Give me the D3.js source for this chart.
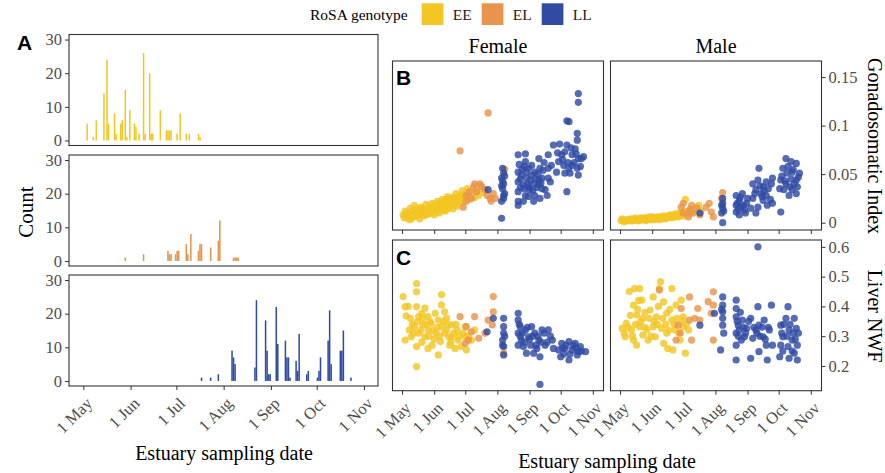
<!DOCTYPE html>
<html>
<head>
<meta charset="utf-8">
<script src="https://cdn.jsdelivr.net/npm/d3@7"></script>
<style>
  body { margin: 0; background: #fff; }
  text { font-family: "Liberation Serif", "Times New Roman", serif; }
  .tag { font-family: "Liberation Sans", Arial, sans-serif; font-weight: bold; }
</style>
</head>
<body>
<svg id="fig" width="885" height="473"></svg>
<script>
// ---- data ----
const genotypes = ['EE', 'EL', 'LL'];
const genoColors = ['#F3C623', '#E8944A', '#2F4BA4'];
const sexes = ['Female', 'Male'];
const monthLabels = ['1 May', '1 Jun', '1 Jul', '1 Aug', '1 Sep', '1 Oct', '1 Nov'];
const countTicks = [0, 10, 20, 30];
const gsiTicks = [0, 0.05, 0.1, 0.15];
const gsiLabels = ['0', '0.05', '0.1', '0.15'];
const nwfTicks = [0.2, 0.3, 0.4, 0.5, 0.6];

// histogram counts per sampling day (days after 1 May)
const histEEDays = [2, 6, 8, 13, 15, 16, 20, 21, 24, 25, 27, 28, 30, 33, 34, 36, 39, 40, 43, 44, 45, 50, 54, 55, 56, 57, 61, 63, 67, 69, 75, 76];
const histEECounts = [5, 1, 6, 14, 24, 5, 8, 2, 5, 6, 15, 1, 9, 5, 4, 2, 26, 2, 20, 2, 2, 9, 3, 3, 3, 3, 2, 8, 2, 2, 2, 1];
const histELDays = [27, 39, 55, 56, 57, 60, 61, 62, 67, 68, 70, 75, 76, 77, 83, 88, 89, 98, 99, 100, 101];
const histELCounts = [1, 2, 3, 2, 2, 2, 3, 3, 5, 2, 8, 3, 5, 5, 4, 6, 12, 1, 1, 1, 1];
const histLLDays = [77, 83, 88, 97, 98, 99, 112, 113, 119, 120, 121, 122, 126, 127, 132, 133, 134, 135, 139, 140, 141, 146, 147, 153, 154, 155, 160, 161, 162, 168, 169, 170, 175];
const histLLCounts = [1, 1, 2, 9, 7, 5, 4, 24, 18, 9, 2, 2, 22, 11, 12, 7, 7, 1, 6, 3, 14, 2, 3, 1, 3, 7, 12, 21, 5, 9, 9, 15, 1];

// gonadosomatic index [day after 1 May, GSI]
const femaleGsiEE = [[1,0.008],[2,0.005],[3,0.012],[4,0.009],[5,0.006],[6,0.010],[7,0.003],[8,0.015],[9,0.009],[9,0.004],[10,0.012],[11,0.006],[12,0.018],[13,0.010],[13,0.007],[14,0.014],[15,0.008],[16,0.012],[17,0.004],[17,0.009],[18,0.016],[19,0.010],[19,0.015],[20,0.013],[21,0.007],[21,0.012],[22,0.011],[23,0.019],[24,0.014],[24,0.008],[25,0.009],[26,0.012],[26,0.016],[27,0.017],[28,0.010],[28,0.013],[29,0.020],[30,0.014],[30,0.018],[31,0.008],[32,0.016],[32,0.011],[33,0.012],[34,0.022],[34,0.017],[35,0.015],[36,0.010],[36,0.020],[37,0.018],[38,0.013],[38,0.016],[39,0.024],[40,0.016],[40,0.022],[41,0.020],[41,0.013],[42,0.012],[43,0.019],[43,0.024],[44,0.027],[45,0.015],[45,0.019],[46,0.022],[47,0.018],[47,0.023],[48,0.025],[49,0.014],[49,0.026],[50,0.021],[51,0.018],[52,0.030],[53,0.017],[53,0.022],[54,0.024],[55,0.027],[56,0.020],[57,0.028],[58,0.033],[58,0.025],[60,0.022],[61,0.030],[62,0.027],[63,0.035],[65,0.024],[67,0.030],[70,0.026],[72,0.033],[74,0.028],[76,0.038],[78,0.031]];
const femaleGsiEL = [[56,0.074],[83,0.113],[59,0.016],[62,0.028],[65,0.032],[69,0.037],[70,0.040],[75,0.040],[77,0.037],[72,0.032],[67,0.025],[62,0.022],[80,0.034],[82,0.028],[85,0.025],[86,0.022],[90,0.025],[88,0.030],[99,0.055]];
const femaleGsiLL = [[96,0.0045],[83,0.034],[97,0.056],[98,0.051],[96,0.046],[98,0.040],[97,0.035],[99,0.030],[98,0.025],[96,0.022],[97,0.043],[99,0.048],[96,0.038],[98,0.028],[112,0.070],[119,0.071],[119,0.063],[122,0.056],[125,0.059],[112,0.052],[115,0.049],[120,0.046],[125,0.049],[128,0.052],[132,0.066],[133,0.056],[135,0.046],[112,0.042],[117,0.039],[122,0.037],[127,0.040],[132,0.039],[112,0.032],[119,0.028],[123,0.034],[128,0.028],[133,0.025],[112,0.022],[117,0.022],[122,0.027],[127,0.022],[112,0.018],[132,0.044],[135,0.035],[113,0.060],[114,0.045],[116,0.055],[118,0.035],[120,0.052],[121,0.040],[124,0.044],[126,0.033],[129,0.045],[130,0.036],[131,0.050],[134,0.041],[136,0.054],[137,0.062],[114,0.036],[118,0.058],[141,0.070],[141,0.056],[141,0.046],[143,0.042],[138,0.034],[140,0.028],[144,0.059],[146,0.080],[152,0.081],[157,0.073],[154,0.070],[159,0.080],[161,0.104],[159,0.105],[169,0.092],[169,0.085],[170,0.133],[170,0.124],[164,0.070],[167,0.076],[170,0.066],[173,0.066],[175,0.068],[151,0.063],[156,0.059],[161,0.056],[157,0.051],[162,0.051],[169,0.056],[170,0.049],[159,0.032],[149,0.052],[164,0.059],[155,0.065],[160,0.062],[163,0.077],[166,0.062],[172,0.058],[150,0.072],[168,0.071]];
const maleGsiEE = [[1,0.002],[2,0.004],[3,0.003],[4,0.001],[5,0.002],[6,0.003],[8,0.002],[9,0.003],[10,0.004],[11,0.002],[12,0.002],[13,0.004],[14,0.003],[15,0.005],[16,0.003],[17,0.002],[18,0.002],[19,0.004],[20,0.005],[21,0.003],[22,0.004],[23,0.005],[24,0.003],[25,0.002],[26,0.005],[27,0.004],[28,0.006],[29,0.004],[30,0.003],[31,0.006],[32,0.005],[33,0.003],[34,0.004],[35,0.005],[36,0.006],[37,0.004],[38,0.003],[39,0.006],[40,0.005],[41,0.004],[42,0.007],[43,0.006],[44,0.004],[45,0.005],[46,0.006],[47,0.007],[48,0.008],[49,0.006],[50,0.005],[51,0.008],[52,0.007],[53,0.006],[54,0.009],[55,0.008],[56,0.006],[57,0.007],[58,0.010],[59,0.009],[60,0.008],[61,0.007],[62,0.012],[63,0.024],[64,0.009],[65,0.010],[66,0.011],[68,0.014],[69,0.012],[70,0.010],[72,0.013],[74,0.016],[76,0.018],[78,0.012]];
const maleGsiEL = [[59,0.016],[61,0.010],[61,0.020],[66,0.006],[67,0.013],[69,0.018],[70,0.010],[74,0.015],[77,0.008],[83,0.016],[86,0.020],[88,0.011],[90,0.006],[98,0.025],[99,0.031]];
const maleGsiLL = [[77,0.010],[99,0.025],[99,0.020],[99,0.015],[98,0.010],[99,0.000],[98,0.018],[100,0.012],[112,0.028],[115,0.023],[112,0.018],[117,0.016],[112,0.011],[115,0.008],[120,0.013],[122,0.020],[118,0.030],[123,0.025],[113,0.020],[114,0.014],[116,0.026],[119,0.018],[121,0.010],[134,0.056],[128,0.040],[133,0.044],[138,0.037],[141,0.042],[146,0.040],[147,0.046],[131,0.034],[136,0.030],[141,0.028],[128,0.025],[138,0.023],[133,0.016],[126,0.015],[142,0.018],[147,0.020],[131,0.010],[130,0.030],[135,0.038],[137,0.027],[139,0.033],[143,0.035],[145,0.024],[160,0.066],[165,0.063],[170,0.061],[166,0.052],[161,0.051],[155,0.044],[160,0.040],[170,0.044],[171,0.037],[154,0.035],[158,0.034],[164,0.037],[170,0.030],[163,0.028],[157,0.056],[155,0.011],[166,0.034],[173,0.051],[156,0.048],[159,0.043],[162,0.058],[165,0.045],[168,0.040],[172,0.047],[167,0.055]];

// liver NWF [day after 1 May, NWF]
const femaleNwfEE = [[14,0.477],[14,0.449],[1,0.433],[38,0.440],[38,0.405],[3,0.399],[14,0.399],[22,0.394],[19,0.377],[4,0.368],[16,0.366],[25,0.366],[32,0.377],[41,0.382],[43,0.360],[35,0.354],[28,0.343],[20,0.338],[12,0.332],[7,0.321],[16,0.310],[9,0.298],[25,0.321],[33,0.310],[38,0.332],[48,0.338],[53,0.321],[45,0.298],[37,0.282],[14,0.265],[25,0.259],[35,0.237],[46,0.270],[54,0.287],[61,0.298],[51,0.259],[62,0.254],[57,0.265],[67,0.287],[70,0.321],[14,0.198],[61,0.332],[22,0.298],[3,0.287],[48,0.298],[43,0.321],[8,0.36],[11,0.31],[15,0.35],[18,0.32],[20,0.36],[23,0.34],[26,0.30],[27,0.35],[30,0.32],[31,0.29],[34,0.33],[36,0.30],[40,0.35],[41,0.31],[44,0.34],[47,0.28],[50,0.31],[52,0.34],[55,0.30],[59,0.31],[64,0.30],[29,0.27],[19,0.28],[10,0.34],[6,0.40]];
const femaleNwfEL = [[88,0.433],[88,0.382],[70,0.366],[56,0.366],[62,0.332],[67,0.315],[74,0.293],[80,0.310],[87,0.338],[83,0.354],[64,0.287],[98,0.243],[61,0.276]];
const femaleNwfLL = [[88,0.360],[82,0.315],[98,0.360],[98,0.332],[98,0.310],[97,0.287],[98,0.265],[98,0.237],[99,0.30],[97,0.27],[112,0.377],[112,0.354],[114,0.332],[112,0.310],[115,0.287],[112,0.270],[119,0.321],[122,0.298],[125,0.332],[117,0.265],[124,0.270],[128,0.310],[132,0.287],[135,0.321],[141,0.321],[120,0.243],[127,0.243],[133,0.231],[138,0.270],[145,0.287],[146,0.259],[130,0.259],[133,0.138],[113,0.34],[114,0.30],[116,0.31],[118,0.28],[121,0.33],[123,0.29],[126,0.30],[129,0.27],[131,0.30],[134,0.28],[137,0.31],[140,0.28],[143,0.30],[154,0.276],[161,0.282],[167,0.276],[172,0.265],[177,0.248],[157,0.259],[164,0.254],[169,0.237],[161,0.220],[153,0.231],[151,0.254],[170,0.248],[155,0.26],[158,0.27],[165,0.27],[168,0.26],[173,0.25],[156,0.24],[162,0.24]];
const maleNwfEE = [[39,0.483],[38,0.460],[14,0.460],[19,0.460],[50,0.460],[21,0.421],[13,0.404],[32,0.432],[42,0.415],[59,0.421],[54,0.404],[29,0.388],[16,0.371],[22,0.360],[35,0.365],[45,0.377],[50,0.354],[61,0.365],[2,0.326],[6,0.343],[11,0.321],[19,0.332],[26,0.321],[32,0.332],[40,0.326],[5,0.298],[13,0.287],[22,0.304],[34,0.298],[45,0.310],[53,0.321],[61,0.332],[66,0.321],[42,0.276],[46,0.259],[51,0.254],[63,0.243],[27,0.287],[58,0.287],[16,0.270],[4,0.31],[8,0.33],[10,0.37],[12,0.30],[15,0.34],[17,0.39],[20,0.35],[24,0.33],[24,0.38],[28,0.36],[30,0.30],[33,0.35],[36,0.34],[37,0.40],[41,0.36],[44,0.34],[47,0.32],[48,0.39],[52,0.34],[55,0.36],[57,0.31],[60,0.35],[64,0.34],[18,0.42],[9,0.45]];
const maleNwfEL = [[67,0.432],[59,0.393],[75,0.393],[90,0.449],[85,0.416],[90,0.404],[88,0.377],[67,0.354],[72,0.360],[58,0.310],[69,0.287],[54,0.287],[90,0.287],[77,0.354],[56,0.337],[38,0.455]];
const maleNwfLL = [[77,0.337],[91,0.377],[133,0.600],[99,0.432],[99,0.404],[99,0.382],[99,0.360],[99,0.337],[97,0.254],[100,0.31],[98,0.39],[112,0.421],[112,0.393],[112,0.365],[114,0.337],[112,0.310],[112,0.270],[115,0.321],[118,0.354],[120,0.298],[122,0.326],[112,0.220],[117,0.287],[113,0.35],[114,0.30],[116,0.38],[119,0.33],[121,0.31],[124,0.35],[133,0.399],[146,0.404],[126,0.360],[134,0.337],[139,0.354],[131,0.321],[138,0.298],[144,0.321],[128,0.293],[141,0.270],[147,0.270],[134,0.248],[126,0.226],[142,0.220],[129,0.33],[132,0.31],[135,0.30],[137,0.33],[140,0.29],[143,0.33],[162,0.399],[160,0.360],[168,0.360],[155,0.337],[163,0.321],[170,0.326],[157,0.298],[166,0.287],[171,0.270],[155,0.270],[162,0.265],[168,0.243],[171,0.220],[154,0.231],[163,0.226],[156,0.31],[158,0.34],[161,0.30],[164,0.34],[167,0.31],[169,0.29],[172,0.31],[157,0.25],[166,0.25]];

// ---- drawing ----
const svg = d3.select('#fig');
const base = new Date(2017, 4, 1);
const toDate = d => new Date(base.getTime() + d * 864e5);
const monthDates = d3.timeMonth.range(toDate(0), toDate(185));
const fontTick = 16.5;
const tickColor = '#4D4D4D';

function styleAxis(g) {
  g.select('.domain').remove();
  g.selectAll('.tick line').attr('stroke', '#333');
  g.selectAll('.tick text')
    .attr('fill', tickColor)
    .style('font-family', '"Liberation Serif", serif')
    .style('font-size', fontTick + 'px');
}

function rotateLabels(g) {
  g.selectAll('.tick text')
    .attr('y', 0)
    .attr('dy', '0.72em')
    .attr('text-anchor', 'end')
    .attr('transform', 'translate(1,10) rotate(-45)');
}

function border(x, y, w, h) {
  svg.append('rect')
    .attr('x', x).attr('y', y)
    .attr('width', w).attr('height', h)
    .attr('fill', 'none')
    .attr('stroke', '#333')
    .attr('stroke-width', 1.1);
}

// panel A : histograms
const aLeft = 69, aRight = 378, aH = 111;
const aTops = [34.5, 155, 275];
const xA = d3.scaleTime().domain([toDate(-9.4), toDate(193.2)]).range([aLeft, aRight]);
const hist = [
  { days: histEEDays, counts: histEECounts },
  { days: histELDays, counts: histELCounts },
  { days: histLLDays, counts: histLLCounts }
];

hist.forEach((h, i) => {
  const top = aTops[i];
  const y = d3.scaleLinear().domain([-1.5, 31.5]).range([top + aH, top]);
  const bins = h.days.map((d, k) => ({ day: d, n: h.counts[k] }));

  svg.append('g').selectAll('rect')
    .data(bins)
    .enter()
    .append('rect')
    .attr('x', d => xA(toDate(d.day)))
    .attr('width', d => xA(toDate(d.day + 1)) - xA(toDate(d.day)))
    .attr('y', d => y(d.n))
    .attr('height', d => y(0) - y(d.n))
    .attr('fill', genoColors[i]);

  border(aLeft, top, aRight - aLeft, aH);

  svg.append('g')
    .attr('transform', `translate(${aLeft}, 0)`)
    .call(d3.axisLeft(y).tickValues(countTicks).tickSize(4).tickPadding(3))
    .call(styleAxis);

  if (i === 2) {
    svg.append('g')
      .attr('transform', `translate(0, ${top + aH})`)
      .call(d3.axisBottom(xA).tickValues(monthDates).tickSize(4)
        .tickFormat((d, k) => monthLabels[k]))
      .call(styleAxis)
      .call(rotateLabels);
  }
});

svg.append('text').attr('class', 'tag')
  .attr('x', 17).attr('y', 50)
  .style('font-size', '21px')
  .text('A');

svg.append('text')
  .attr('transform', 'translate(33, 212) rotate(-90)')
  .attr('text-anchor', 'middle')
  .style('font-size', '21px')
  .text('Count');

svg.append('text')
  .attr('x', 224).attr('y', 460)
  .attr('text-anchor', 'middle')
  .style('font-size', '20px')
  .text('Estuary sampling date');

// panels B and C : scatter
const colLeft = [392.5, 610.5], colW = 211;
const rows = [
  { top: 61, h: 169, domain: [-0.0075, 0.1665], ticks: gsiTicks, labels: gsiLabels,
    data: [[femaleGsiEE, femaleGsiEL, femaleGsiLL], [maleGsiEE, maleGsiEL, maleGsiLL]] },
  { top: 240, h: 150.7, domain: [0.117, 0.623], ticks: nwfTicks, labels: nwfTicks.map(String),
    data: [[femaleNwfEE, femaleNwfEL, femaleNwfLL], [maleNwfEE, maleNwfEL, maleNwfLL]] }
];

rows.forEach((row, r) => {
  const y = d3.scaleLinear().domain(row.domain).range([row.top + row.h, row.top]);

  colLeft.forEach((left, c) => {
    const x = d3.scaleTime().domain([toDate(-9.2), toDate(194.3)]).range([left, left + colW]);

    row.data[c].forEach((pts, g) => {
      svg.append('g').selectAll('circle')
        .data(pts)
        .enter()
        .append('circle')
        .attr('cx', d => x(toDate(d[0])))
        .attr('cy', d => y(d[1]))
        .attr('r', 3.6)
        .attr('fill', genoColors[g])
        .attr('fill-opacity', 0.82);
    });

    border(left, row.top, colW, row.h);

    const xAxis = svg.append('g')
      .attr('transform', `translate(0, ${row.top + row.h})`)
      .call(d3.axisBottom(x).tickValues(monthDates).tickSize(4)
        .tickFormat((d, k) => r === 1 ? monthLabels[k] : ''))
      .call(styleAxis);
    if (r === 1) xAxis.call(rotateLabels);

    if (c === 1) {
      svg.append('g')
        .attr('transform', `translate(${left + colW}, 0)`)
        .call(d3.axisRight(y).tickValues(row.ticks).tickSize(4).tickPadding(3)
          .tickFormat((d, k) => row.labels[k]))
        .call(styleAxis);
    }
  });
});

sexes.forEach((s, c) => {
  svg.append('text')
    .attr('x', colLeft[c] + colW / 2).attr('y', 53)
    .attr('text-anchor', 'middle')
    .style('font-size', '20px')
    .text(s);
});

svg.append('text').attr('class', 'tag')
  .attr('x', 396).attr('y', 85)
  .style('font-size', '21px')
  .text('B');
svg.append('text').attr('class', 'tag')
  .attr('x', 396).attr('y', 265)
  .style('font-size', '21px')
  .text('C');

svg.append('text')
  .attr('transform', 'translate(868, 146) rotate(90)')
  .attr('text-anchor', 'middle')
  .style('font-size', '20px')
  .text('Gonadosomatic Index');
svg.append('text')
  .attr('transform', 'translate(868, 316) rotate(90)')
  .attr('text-anchor', 'middle')
  .style('font-size', '20px')
  .text('Liver NWF');

svg.append('text')
  .attr('x', 607).attr('y', 468)
  .attr('text-anchor', 'middle')
  .style('font-size', '20px')
  .text('Estuary sampling date');

// legend
const legend = svg.append('g');
legend.append('text')
  .attr('x', 310).attr('y', 19.5)
  .style('font-size', '15.5px')
  .text('RoSA genotype');

const lg = legend.selectAll('g.key')
  .data(genotypes)
  .enter()
  .append('g')
  .attr('class', 'key')
  .attr('transform', (d, i) => `translate(${421.7 + i * 60}, 3.3)`);
lg.append('rect')
  .attr('width', 21.7).attr('height', 21.7)
  .attr('fill', (d, i) => genoColors[i]);
lg.append('text')
  .attr('x', 31).attr('y', 16.5)
  .style('font-size', '15.5px')
  .attr('fill', '#222')
  .text(d => d);
</script>
</body>
</html>
